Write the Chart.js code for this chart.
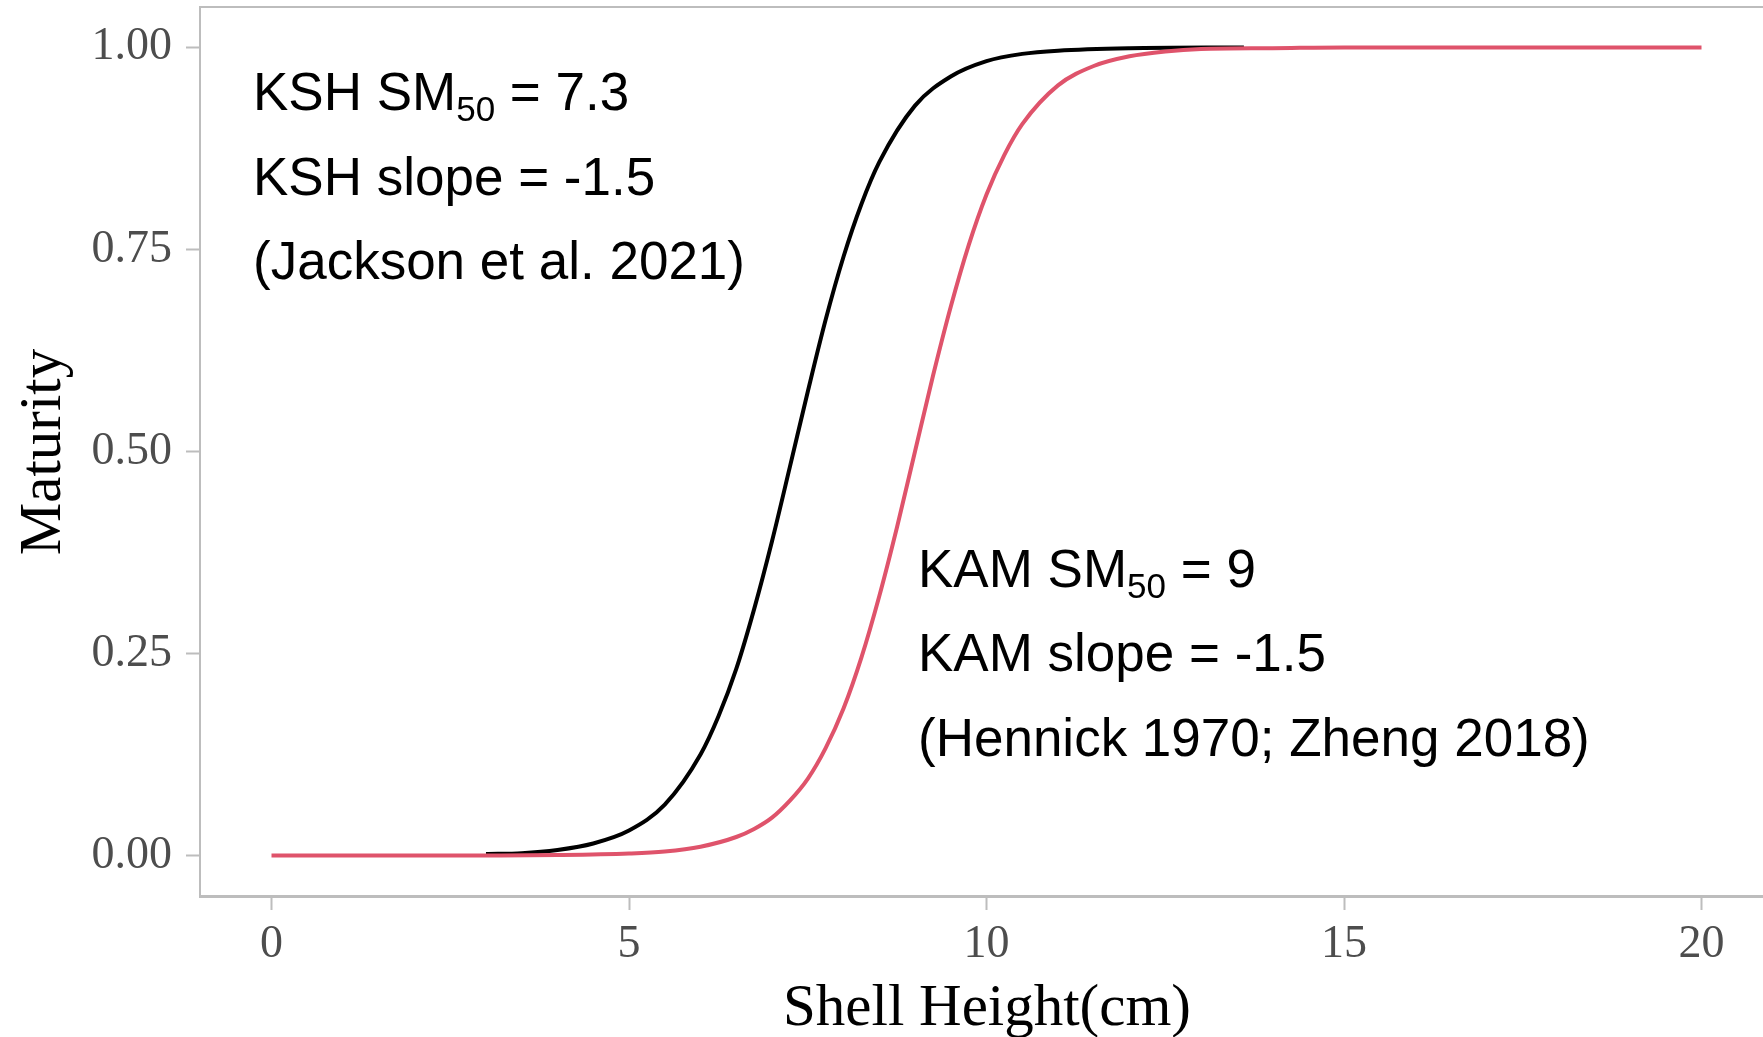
<!DOCTYPE html>
<html>
<head>
<meta charset="utf-8">
<script src="https://cdn.jsdelivr.net/npm/chart.js@4/dist/chart.umd.min.js"></script>
<style>
  html, body { margin: 0; padding: 0; background: #fff; }
  #chart { display: block; }
</style>
</head>
<body>
<canvas id="chart" width="1763" height="1037"></canvas>
<script>
// --- data ---
const shellHeightKSH = [3.0, 3.5, 4.0, 4.5, 5.0, 5.5, 6.0, 6.25, 6.5, 6.75, 7.0, 7.25, 7.5, 7.75, 8.0, 8.25, 8.5, 9.0, 9.5, 10.0, 10.5, 11.0, 12.0, 13.6];
const maturityKSH = [0.002, 0.003, 0.007, 0.015, 0.031, 0.063, 0.125, 0.172, 0.231, 0.305, 0.389, 0.481, 0.574, 0.663, 0.741, 0.806, 0.858, 0.928, 0.964, 0.983, 0.992, 0.996, 0.999, 1.0];

const shellHeightKAM = [0, 1, 2, 3, 4, 5, 5.5, 6, 6.5, 6.75, 7, 7.25, 7.5, 7.75, 8, 8.25, 8.5, 8.75, 9, 9.25, 9.5, 9.75, 10, 10.25, 10.5, 11, 11.5, 12, 12.5, 13, 14, 15, 16, 18, 20];
const maturityKAM = [0, 0, 0, 0.0001, 0.0006, 0.0025, 0.005, 0.011, 0.023, 0.033, 0.047, 0.068, 0.095, 0.133, 0.182, 0.245, 0.321, 0.407, 0.5, 0.593, 0.679, 0.755, 0.818, 0.867, 0.905, 0.953, 0.977, 0.989, 0.995, 0.998, 0.999, 1.0, 1.0, 1.0, 1.0];

const xTicks = [0, 5, 10, 15, 20];
const yTicks = [0, 0.25, 0.5, 0.75, 1.0];
const yTickLabels = ["0.00", "0.25", "0.50", "0.75", "1.00"];

const kshNotes = ["KSH SM|50| = 7.3", "KSH slope = -1.5", "(Jackson et al. 2021)"];
const kamNotes = ["KAM SM|50| = 9", "KAM slope = -1.5", "(Hennick 1970; Zheng 2018)"];

const toPoints = (xs, ys) => xs.map((x, i) => ({ x: x, y: ys[i] }));

const axisGrey = "#bdbdbd";
const tickFont = { family: "'Liberation Serif', 'DejaVu Serif', serif", size: 46 };

// draws text with a "|sub|" subscript chunk
function drawNote(ctx, text, x, y) {
  const parts = text.split("|");
  let cx = x;
  parts.forEach((part, i) => {
    const isSub = i % 2 === 1;
    ctx.font = isSub ? "35px 'Liberation Sans', Arial, sans-serif" : "53px 'Liberation Sans', Arial, sans-serif";
    ctx.fillText(part, cx, isSub ? y + 11 : y);
    cx += ctx.measureText(part).width;
  });
}

const decorations = {
  id: "decorations",
  afterDraw(chart) {
    const ctx = chart.ctx;
    const area = chart.chartArea;
    ctx.save();

    // top panel border
    ctx.strokeStyle = axisGrey;
    ctx.lineWidth = 2;
    ctx.beginPath();
    ctx.moveTo(area.left, area.top);
    ctx.lineTo(area.right, area.top);
    ctx.stroke();

    // axis titles
    ctx.fillStyle = "#000";
    ctx.font = "59px 'Liberation Serif', 'DejaVu Serif', serif";
    ctx.textAlign = "center";
    ctx.textBaseline = "alphabetic";
    ctx.fillText("Shell Height(cm)", 987, 1025);

    ctx.save();
    ctx.translate(60, 452);
    ctx.rotate(-Math.PI / 2);
    ctx.fillText("Maturity", 0, 0);
    ctx.restore();

    // text notes
    ctx.textAlign = "left";
    const kshBase = [110, 195, 279];
    kshNotes.forEach((t, i) => drawNote(ctx, t, 253, kshBase[i]));
    const kamBase = [587, 671, 756];
    kamNotes.forEach((t, i) => drawNote(ctx, t, 918, kamBase[i]));

    ctx.restore();
  }
};

new Chart(document.getElementById("chart"), {
  type: "line",
  data: {
    datasets: [
      {
        label: "KAM",
        data: toPoints(shellHeightKAM, maturityKAM),
        borderColor: "#DF536B",
        borderWidth: 4,
        pointRadius: 0,
        cubicInterpolationMode: "monotone",
        fill: false,
      },
      {
        label: "KSH",
        data: toPoints(shellHeightKSH, maturityKSH),
        borderColor: "#000000",
        borderWidth: 4,
        pointRadius: 0,
        cubicInterpolationMode: "monotone",
        fill: false,
      },
    ],
  },
  options: {
    responsive: false,
    animation: false,
    events: [],
    layout: { padding: { top: 7, right: 0, left: 0, bottom: 0 } },
    plugins: {
      legend: { display: false },
      tooltip: { enabled: false },
    },
    scales: {
      x: {
        type: "linear",
        min: -1,
        max: 20.86,
        afterBuildTicks: (scale) => { scale.ticks = xTicks.map((v) => ({ value: v })); },
        afterFit: (scale) => {
          scale.height = 1037 - 896;
          scale.paddingLeft = 0;
          scale.paddingRight = 0;
        },
        grid: { drawOnChartArea: false, drawTicks: true, tickLength: 14, tickColor: axisGrey, tickWidth: 2 },
        border: { display: true, color: axisGrey, width: 3 },
        ticks: { font: tickFont, color: "#4d4d4d", padding: 7, maxRotation: 0, autoSkip: false },
      },
      y: {
        type: "linear",
        min: -0.05,
        max: 1.05,
        afterBuildTicks: (scale) => { scale.ticks = yTicks.map((v) => ({ value: v })); },
        afterFit: (scale) => {
          scale.width = 200;
          scale.paddingTop = 0;
          scale.paddingBottom = 0;
        },
        grid: { drawOnChartArea: false, drawTicks: true, tickLength: 14, tickColor: axisGrey, tickWidth: 2 },
        border: { display: true, color: axisGrey, width: 2 },
        ticks: {
          font: tickFont,
          color: "#4d4d4d",
          padding: 14,
          autoSkip: false,
          callback: (value) => yTickLabels[yTicks.indexOf(value)] ?? "",
        },
      },
    },
  },
  plugins: [decorations],
});
</script>
</body>
</html>
